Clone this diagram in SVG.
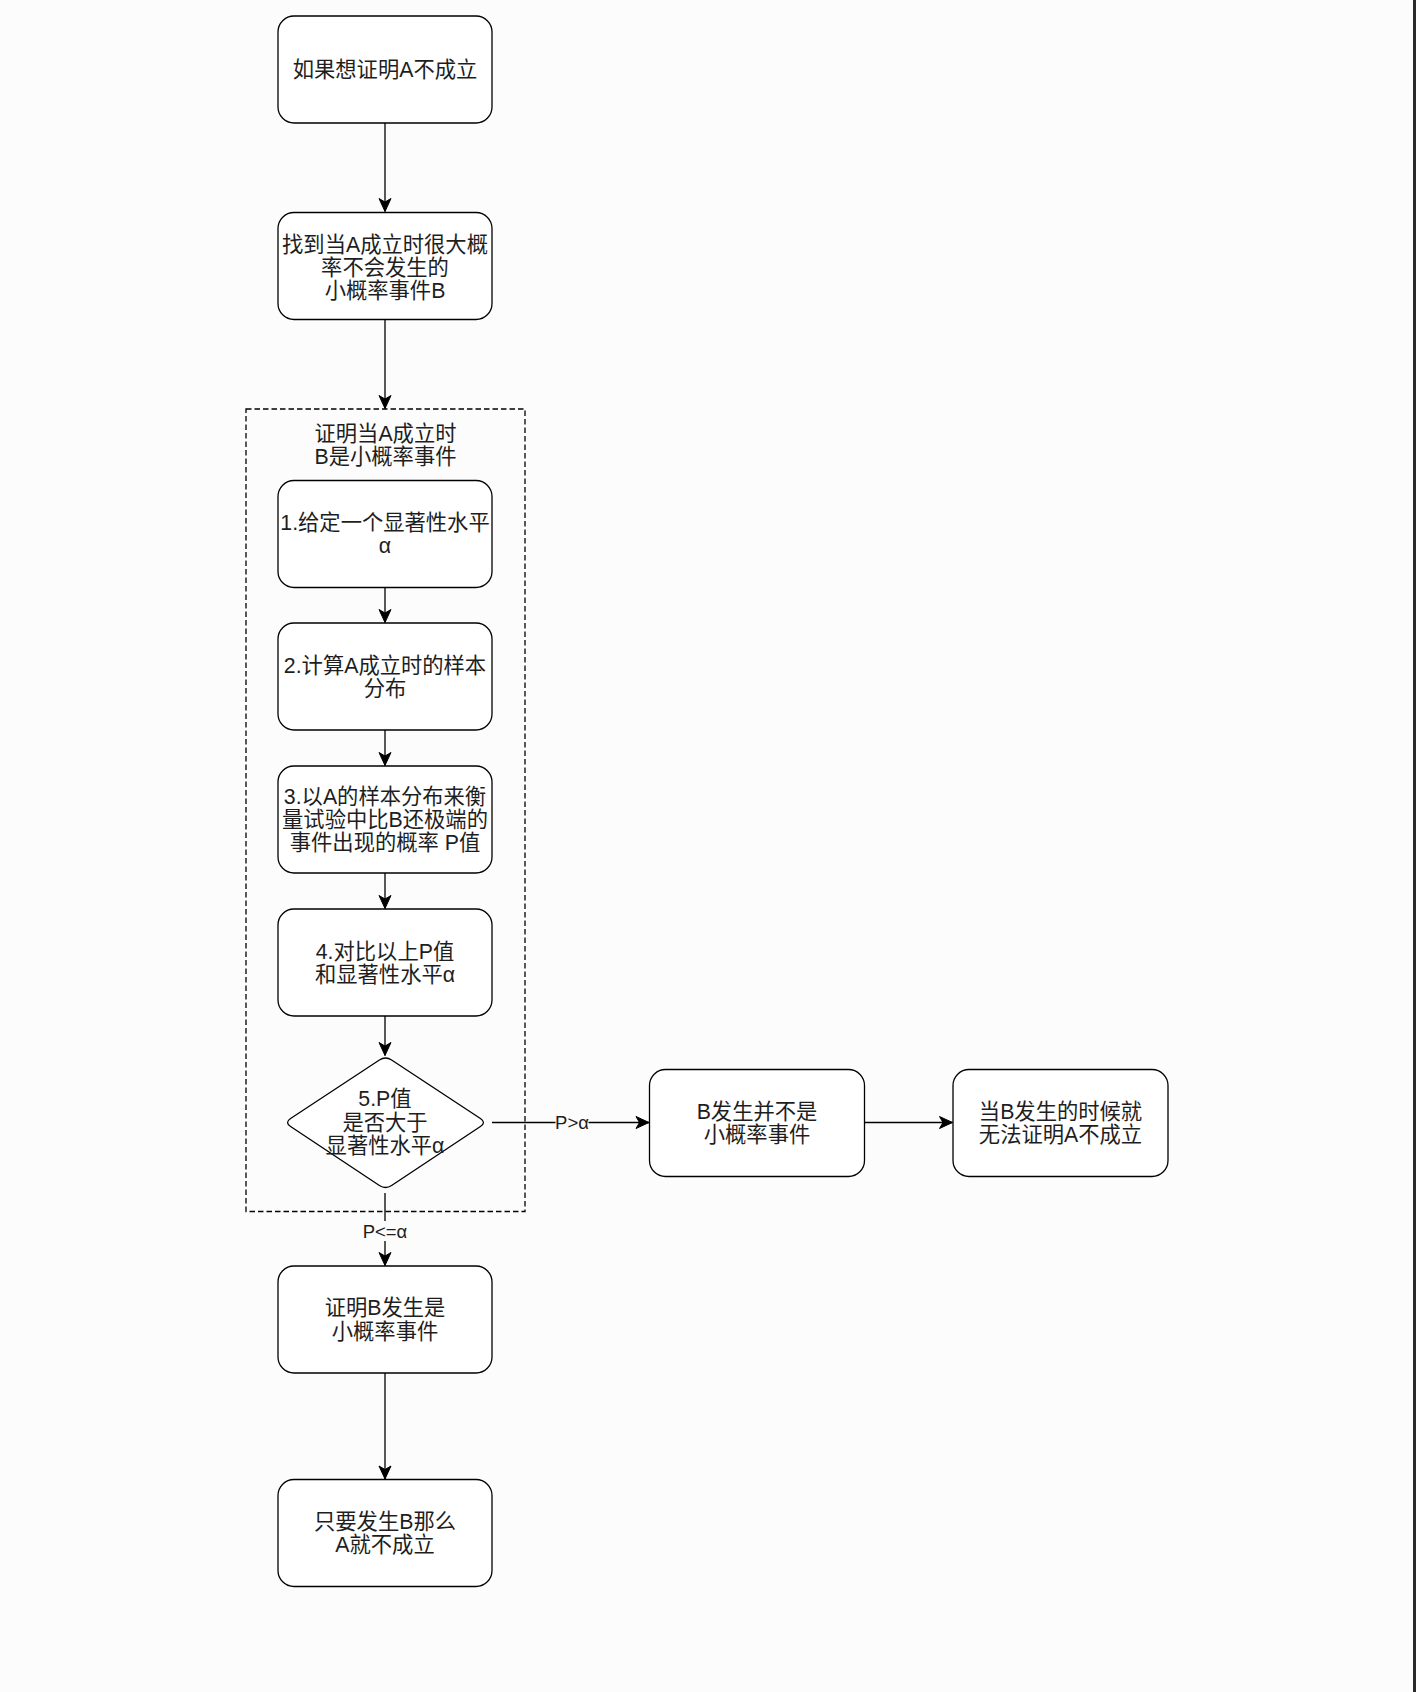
<svg xmlns="http://www.w3.org/2000/svg" width="1416" height="1692" viewBox="0 0 1416 1692">
<style>
.box{fill:#fff;stroke:#000;stroke-width:1.3}
.t{font-family:"Liberation Sans","Noto Sans CJK SC",sans-serif;font-size:21.3px;fill:#1e1e1e;text-anchor:middle}
.lbl{font-family:"Liberation Sans","Noto Sans CJK SC",sans-serif;font-size:18.5px;fill:#1e1e1e;text-anchor:middle}
.edge{fill:none;stroke:#000;stroke-width:1.3}
</style>
<defs>
<marker id="arr" markerUnits="userSpaceOnUse" markerWidth="16" markerHeight="16" viewBox="-15 -8 16 16" refX="0" refY="0" orient="auto">
<path d="M0,0 L-13,-6 L-9.5,0 L-13,6 Z" fill="#000" stroke="#000" stroke-width="1"/>
</marker>
</defs>
<rect x="0" y="0" width="1416" height="1692" fill="#fcfcfc"/>
<rect x="1413" y="0" width="3" height="1692" fill="#2a2a2a"/>

<g id="container">
<rect x="246" y="409" width="279" height="802.5" fill="none" stroke="#000" stroke-width="1.3" stroke-dasharray="5.5 3"/>
<text class="t"><tspan x="385.5" y="441">证明当A成立时</tspan><tspan x="385.5" y="464">B是小概率事件</tspan></text>
</g>

<g id="connectors">
<line class="edge" x1="385" y1="123" x2="385" y2="211.5" marker-end="url(#arr)"/>
<line class="edge" x1="385" y1="320" x2="385" y2="408.5" marker-end="url(#arr)"/>
<line class="edge" x1="385" y1="588" x2="385" y2="622.5" marker-end="url(#arr)"/>
<line class="edge" x1="385" y1="730" x2="385" y2="765.5" marker-end="url(#arr)"/>
<line class="edge" x1="385" y1="873" x2="385" y2="908.5" marker-end="url(#arr)"/>
<line class="edge" x1="385" y1="1016" x2="385" y2="1055.5" marker-end="url(#arr)"/>
<line class="edge" x1="385" y1="1193" x2="385" y2="1265.5" marker-end="url(#arr)"/>
<rect x="360" y="1221" width="50" height="20" fill="#fcfcfc"/>
<text class="lbl" x="385" y="1237.5">P&lt;=α</text>
<line class="edge" x1="492" y1="1122.5" x2="649" y2="1122.5" marker-end="url(#arr)"/>
<rect x="555.5" y="1112" width="33" height="21" fill="#fcfcfc"/>
<text class="lbl" x="572" y="1129">P&gt;α</text>
<line class="edge" x1="865" y1="1122.5" x2="952.5" y2="1122.5" marker-end="url(#arr)"/>
<line class="edge" x1="385" y1="1373" x2="385" y2="1479" marker-end="url(#arr)"/>
</g>

<g id="n1">
<rect class="box" x="278" y="16" width="214" height="107" rx="16"/>
<text class="t" x="385" y="77">如果想证明A不成立</text>
</g>
<g id="n2">
<rect class="box" x="278" y="212.5" width="214" height="107" rx="16"/>
<text class="t"><tspan x="385" y="251.5">找到当A成立时很大概</tspan><tspan x="385" y="274.8">率不会发生的</tspan><tspan x="385" y="298.1">小概率事件B</tspan></text>
</g>
<g id="n3">
<rect class="box" x="278" y="480.5" width="214" height="107" rx="16"/>
<text class="t"><tspan x="385" y="530">1.给定一个显著性水平</tspan><tspan x="385" y="553.3">α</tspan></text>
</g>
<g id="n4">
<rect class="box" x="278" y="623" width="214" height="107" rx="16"/>
<text class="t"><tspan x="385" y="672.5">2.计算A成立时的样本</tspan><tspan x="385" y="695.8">分布</tspan></text>
</g>
<g id="n5">
<rect class="box" x="278" y="766" width="214" height="107" rx="16"/>
<text class="t"><tspan x="385" y="803.8">3.以A的样本分布来衡</tspan><tspan x="385" y="827.1">量试验中比B还极端的</tspan><tspan x="385" y="850.4">事件出现的概率 P值</tspan></text>
</g>
<g id="n6">
<rect class="box" x="278" y="909" width="214" height="107" rx="16"/>
<text class="t"><tspan x="385" y="958.5">4.对比以上P值</tspan><tspan x="385" y="981.8">和显著性水平α</tspan></text>
</g>
<g id="n7">
<path class="box" d="M391.6,1060 L480.4,1118.5 Q486.5,1122.5 480.4,1126.5 L391.6,1185.5 Q385.5,1189.5 379.4,1185.5 L290.6,1126.5 Q284.5,1122.5 290.6,1118.5 L379.4,1060 Q385.5,1056 391.6,1060 Z"/>
<text class="t"><tspan x="385" y="1106">5.P值</tspan><tspan x="385" y="1129.5">是否大于</tspan><tspan x="385" y="1153">显著性水平α</tspan></text>
</g>
<g id="n8">
<rect class="box" x="649.5" y="1069.5" width="215" height="107" rx="16"/>
<text class="t"><tspan x="757" y="1118.5">B发生并不是</tspan><tspan x="757" y="1141.8">小概率事件</tspan></text>
</g>
<g id="n9">
<rect class="box" x="953" y="1069.5" width="215" height="107" rx="16"/>
<text class="t"><tspan x="1060.5" y="1118.5">当B发生的时候就</tspan><tspan x="1060.5" y="1141.8">无法证明A不成立</tspan></text>
</g>
<g id="n10">
<rect class="box" x="278" y="1266" width="214" height="107" rx="16"/>
<text class="t"><tspan x="385" y="1315.3">证明B发生是</tspan><tspan x="385" y="1338.6">小概率事件</tspan></text>
</g>
<g id="n11">
<rect class="box" x="278" y="1479.5" width="214" height="107" rx="16"/>
<text class="t"><tspan x="385" y="1528.8">只要发生B那么</tspan><tspan x="385" y="1552.1">A就不成立</tspan></text>
</g>
</svg>
